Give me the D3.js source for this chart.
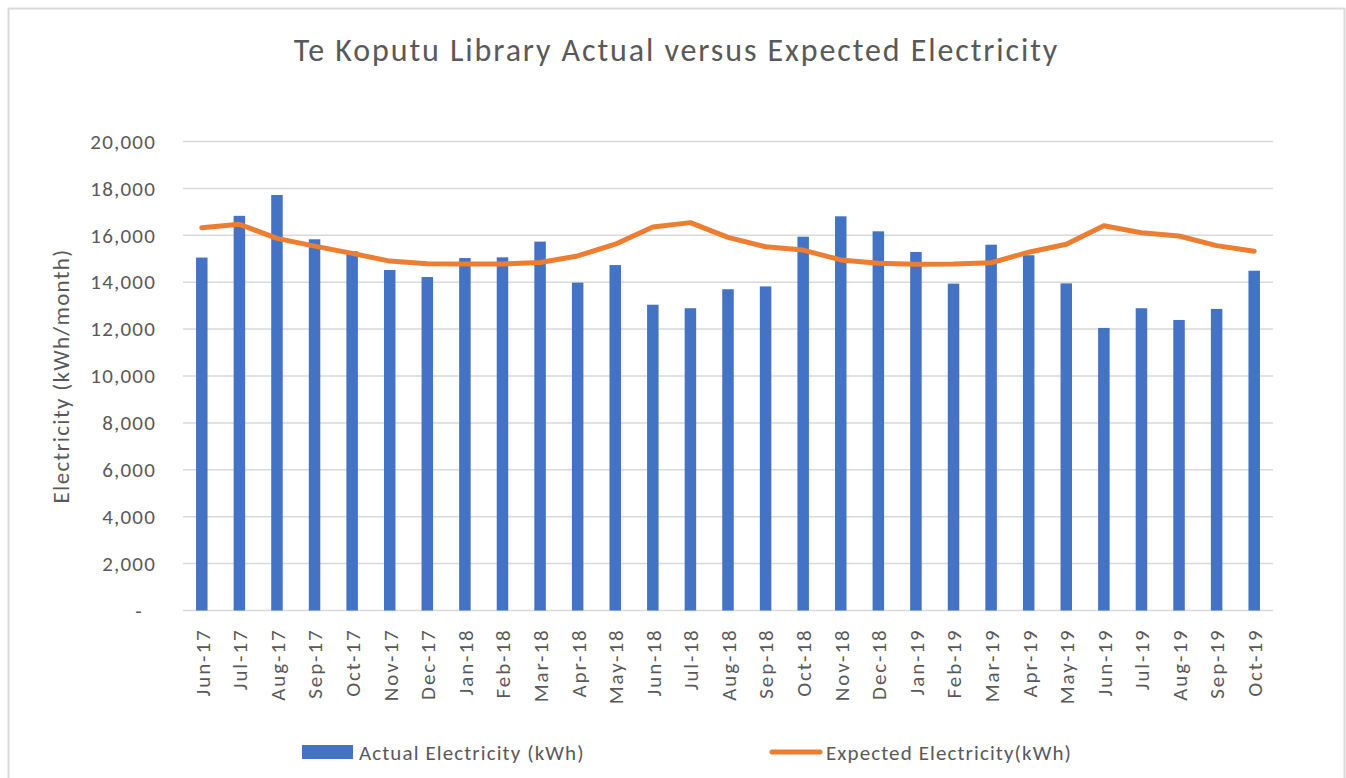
<!DOCTYPE html>
<html>
<head>
<meta charset="utf-8">
<script src="https://cdn.jsdelivr.net/npm/d3@7"></script>
<style>
  body { margin: 0; background: #fff; }
  text { font-family: Carlito, Lato, "Noto Sans", sans-serif; fill: #595959; }
</style>
</head>
<body>
<div class="vis-combo"></div>
<script>
const months = ['Jun-17', 'Jul-17', 'Aug-17', 'Sep-17', 'Oct-17', 'Nov-17', 'Dec-17',
  'Jan-18', 'Feb-18', 'Mar-18', 'Apr-18', 'May-18', 'Jun-18', 'Jul-18', 'Aug-18',
  'Sep-18', 'Oct-18', 'Nov-18', 'Dec-18', 'Jan-19', 'Feb-19', 'Mar-19', 'Apr-19',
  'May-19', 'Jun-19', 'Jul-19', 'Aug-19', 'Sep-19', 'Oct-19'];
const actual = [15050, 16830, 17720, 15830, 15320, 14520, 14220,
  15030, 15060, 15730, 13980, 14730, 13040, 12890, 13700,
  13820, 15940, 16810, 16170, 15290, 13940, 15600, 15150,
  13950, 12050, 12890, 12390, 12860, 14490];
const expected = [16320, 16470, 15870, 15540, 15230, 14900, 14790,
  14780, 14780, 14840, 15120, 15620, 16350, 16540, 15910,
  15510, 15370, 14950, 14810, 14770, 14780, 14830, 15280,
  15620, 16410, 16110, 15970, 15560, 15320];
const yTicks = [0, 2000, 4000, 6000, 8000, 10000, 12000, 14000, 16000, 18000, 20000];

const W = 1346, H = 778;
const margin = { top: 141.5, right: 73, bottom: 167.5, left: 183 };
const width = W - margin.left - margin.right;
const height = H - margin.top - margin.bottom;

const root = d3.select('.vis-combo')
  .append('svg')
  .attr('width', W)
  .attr('height', H);

// chart border
root.append('rect')
  .attr('x', 8.5).attr('y', 8.5)
  .attr('width', 1336).attr('height', 780)
  .attr('fill', 'none')
  .attr('stroke', '#d9d9d9')
  .attr('stroke-width', 2);

root.append('text')
  .attr('x', 676.5).attr('y', 61)
  .attr('text-anchor', 'middle')
  .style('font-size', '32px')
  .style('letter-spacing', '1.9px')
  .text('Te Koputu Library Actual versus Expected Electricity');

const svg = root.append('g')
  .attr('transform', `translate(${margin.left},${margin.top})`);

const xc = d3.scalePoint().domain(months).range([0, width]).padding(0.5);
const y = d3.scaleLinear().domain([0, 20000]).range([height, 0]);

// gridlines
svg.append('g')
  .selectAll('line')
  .data(yTicks)
  .enter()
  .append('line')
  .attr('x1', 0).attr('x2', width)
  .attr('y1', (d) => y(d)).attr('y2', (d) => y(d))
  .attr('stroke', '#d9d9d9')
  .attr('stroke-width', 1.5);

// y axis labels
const yAxis = svg.append('g')
  .call(d3.axisLeft(y).tickValues(yTicks).tickSize(0).tickPadding(27)
    .tickFormat((d) => (d === 0 ? '-' : d3.format(',')(d))));
yAxis.select('.domain').remove();
yAxis.selectAll('text')
  .style('font-size', '21px')
  .style('letter-spacing', '1.2px')
  .attr('fill', '#595959');
yAxis.selectAll('text').filter((d) => d === 0).attr('dx', -13);

root.append('text')
  .attr('transform', `translate(69,376) rotate(-90)`)
  .attr('text-anchor', 'middle')
  .style('font-size', '23px')
  .style('letter-spacing', '1.3px')
  .text('Electricity (kWh/month)');

// bars
svg.selectAll('.bar')
  .data(months)
  .enter()
  .append('rect')
  .attr('class', 'bar')
  .attr('x', (d) => xc(d) - 5.75)
  .attr('width', 11.5)
  .attr('y', (d, i) => y(actual[i]))
  .attr('height', (d, i) => height - y(actual[i]))
  .attr('fill', '#4472c4');

// expected line
const line = d3.line()
  .x((d, i) => xc(months[i]))
  .y((d) => y(d));
svg.append('path')
  .datum(expected)
  .attr('d', line)
  .attr('fill', 'none')
  .attr('stroke', '#ed7d31')
  .attr('stroke-width', 5)
  .attr('stroke-linejoin', 'round')
  .attr('stroke-linecap', 'round');

// x axis labels
const xAxis = svg.append('g')
  .attr('transform', `translate(0,${height})`)
  .call(d3.axisBottom(xc).tickSize(0));
xAxis.select('.domain').remove();
xAxis.selectAll('text')
  .style('font-size', '21px')
  .style('letter-spacing', '1.9px')
  .attr('fill', '#595959')
  .attr('text-anchor', 'end')
  .attr('transform', 'rotate(-90)')
  .attr('x', -18)
  .attr('y', 0)
  .attr('dy', '0.35em');

// legend
const legend = root.append('g');
legend.append('rect')
  .attr('x', 302).attr('y', 745)
  .attr('width', 51).attr('height', 14)
  .attr('fill', '#4472c4');
legend.append('text')
  .attr('x', 359).attr('y', 760)
  .style('font-size', '21px')
  .style('letter-spacing', '1.1px')
  .text('Actual Electricity (kWh)');
legend.append('line')
  .attr('x1', 772).attr('x2', 820)
  .attr('y1', 752).attr('y2', 752)
  .attr('stroke', '#ed7d31')
  .attr('stroke-width', 5)
  .attr('stroke-linecap', 'round');
legend.append('text')
  .attr('x', 826).attr('y', 760)
  .style('font-size', '21px')
  .style('letter-spacing', '1.1px')
  .text('Expected Electricity(kWh)');
</script>
</body>
</html>
